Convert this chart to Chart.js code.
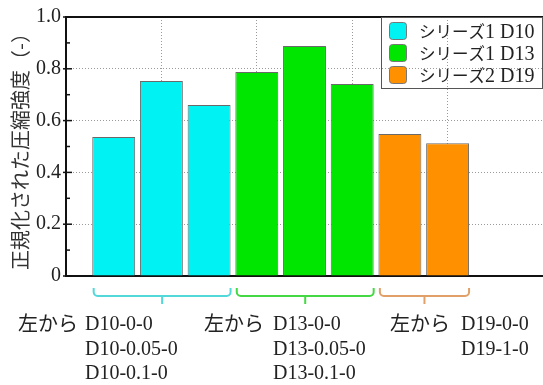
<!DOCTYPE html>
<html>
<head>
<meta charset="utf-8">
<script src="https://cdn.jsdelivr.net/npm/chart.js@4.4.1/dist/chart.umd.min.js"></script>
<style>
  html, body { margin: 0; padding: 0; background: #fff; }
  canvas { display: block; }
</style>
</head>
<body>
<canvas id="chart" width="543" height="385"></canvas>
<script>
// 試験体名（左から順）
const categories = ['D10-0-0', 'D10-0.05-0', 'D10-0.1-0', 'D13-0-0', 'D13-0.05-0', 'D13-0.1-0', 'D19-0-0', 'D19-1-0'];
const seriesLabels = ['シリーズ1 D10', 'シリーズ1 D13', 'シリーズ2 D19'];
const d10Values = [0.537, 0.753, 0.660];
const d13Values = [0.788, 0.888, 0.741];
const d19Values = [0.548, 0.513];
const yTicks = [0, 0.2, 0.4, 0.6, 0.8, 1.0];
const yTitle = '正規化された圧縮強度（-）';
const groupNote = '左から';

const colors = ['#00f2f2', '#00e600', '#ff9100'];
const braceColors = ['#52d8d8', '#45d845', '#e0a068'];

// 各系列のx位置は試験体の並び順
const groups = [d10Values, d13Values, d19Values];
let offset = 0;
const datasets = groups.map((vals, g) => {
    const start = offset;
    offset += vals.length;
    return {
        label: seriesLabels[g],
        data: vals.map((v, i) => ({ x: start + i, y: v })),
        backgroundColor: colors[g],
        borderColor: '#6a6a6a',
        borderWidth: 1,
        grouped: false,
        barPercentage: 0.9,
        categoryPercentage: 1.0,
        _start: start
    };
});

const SERIF = "'Liberation Serif', 'Times New Roman', serif";
const JP = "'Noto Sans CJK JP', sans-serif";

// 日本語と英数字を別フォントで描く
function drawMixed(ctx, str, x, y, jpSize, enSize) {
    const runs = str.match(/[\u3000-\u30ff\u4e00-\u9fff\uff00-\uffef]+|[^\u3000-\u30ff\u4e00-\u9fff\uff00-\uffef]+/g) || [];
    runs.forEach(r => {
        const jp = /[\u3000-\u30ff\u4e00-\u9fff\uff00-\uffef]/.test(r);
        ctx.font = jp ? jpSize + 'px ' + JP : enSize + 'px ' + SERIF;
        ctx.fillText(r, x, y);
        x += ctx.measureText(r).width;
    });
}

const decor = {
    id: 'decor',
    afterDraw(chart) {
        const ctx = chart.ctx;
        const area = chart.chartArea;
        const xs = chart.scales.x, ys = chart.scales.y;
        ctx.save();

        // 上枠
        ctx.strokeStyle = '#111';
        ctx.lineWidth = 2;
        ctx.beginPath();
        ctx.moveTo(area.left - 1, area.top);
        ctx.lineTo(area.right, area.top);
        ctx.stroke();

        // 目盛り（主・副）
        ctx.lineWidth = 1.5;
        yTicks.forEach((v, i) => {
            const py = ys.getPixelForValue(v);
            ctx.beginPath();
            ctx.moveTo(area.left - 3, py);
            ctx.lineTo(area.left + 6, py);
            ctx.stroke();
            if (i < yTicks.length - 1) {
                const pm = ys.getPixelForValue((v + yTicks[i + 1]) / 2);
                ctx.beginPath();
                ctx.moveTo(area.left, pm);
                ctx.lineTo(area.left + 4, pm);
                ctx.stroke();
            }
        });

        // 凡例
        const lx = 381, ly = area.top, lw = area.right - 1 - lx, lh = 71;
        ctx.strokeStyle = '#555';
        ctx.lineWidth = 1;
        ctx.strokeRect(lx + 0.5, ly + 0.5, lw, lh);
        chart.data.datasets.forEach((ds, i) => {
            const cy = ly + 14 + i * 22;
            ctx.fillStyle = ds.backgroundColor;
            ctx.strokeStyle = '#777';
            ctx.beginPath();
            ctx.roundRect(389.5, cy - 8.5, 17, 17, 3);
            ctx.fill();
            ctx.stroke();
            ctx.fillStyle = '#222';
            ctx.textBaseline = 'alphabetic';
            drawMixed(ctx, ds.label, 419, cy + 7, 16.5, 20);
        });

        // 波括弧とグループ名
        const textX = [[18, 85], [204, 273], [390, 461]];
        chart.data.datasets.forEach((ds, g) => {
            const n = ds.data.length;
            const x0 = xs.getPixelForValue(ds._start - 0.42);
            const x1 = xs.getPixelForValue(ds._start + n - 1 + 0.45);
            const xc = (x0 + x1) / 2;
            const by = 296;
            ctx.strokeStyle = braceColors[g];
            ctx.lineWidth = 2;
            ctx.beginPath();
            ctx.moveTo(x0, 288);
            ctx.arcTo(x0, by, x0 + 4, by, 4);
            ctx.arcTo(x1, by, x1, 288, 4);
            ctx.lineTo(x1, 288);
            ctx.stroke();
            ctx.beginPath();
            ctx.moveTo(xc, by);
            ctx.lineTo(xc, 304);
            ctx.stroke();

            ctx.fillStyle = '#222';
            ctx.textBaseline = 'alphabetic';
            ctx.font = '20px ' + JP;
            ctx.fillText(groupNote, textX[g][0], 331);
            ctx.font = '20px ' + SERIF;
            for (let i = 0; i < n; i++) {
                ctx.fillText(categories[ds._start + i], textX[g][1], 330 + i * 24.5);
            }
        });
        ctx.restore();
    }
};

new Chart(document.getElementById('chart'), {
    type: 'bar',
    data: { datasets: datasets },
    options: {
        responsive: false,
        animation: false,
        layout: { padding: { top: 16, bottom: 109, left: 0, right: 0 } },
        plugins: { legend: { display: false }, tooltip: { enabled: false } },
        scales: {
            x: {
                type: 'linear',
                offset: false,
                min: -1,
                max: 9,
                ticks: { display: false, stepSize: 2 },
                grid: { color: '#9a9a9a', lineWidth: 1, drawTicks: false, offset: false },
                border: { color: '#111', width: 2, dash: [1, 2] }
            },
            y: {
                min: 0,
                max: 1,
                afterFit: s => { s.width = 66; },
                ticks: {
                    stepSize: 0.2,
                    padding: 5,
                    color: '#222',
                    font: { family: SERIF, size: 20 },
                    callback: v => v === 0 ? '0' : v.toFixed(1)
                },
                grid: { color: '#9a9a9a', lineWidth: 1, drawTicks: false },
                border: { color: '#111', width: 2, dash: [1, 2] },
                title: {
                    display: true,
                    text: yTitle,
                    color: '#333',
                    font: { family: JP, size: 20 },
                    padding: { top: 8, bottom: 0 }
                }
            }
        }
    },
    plugins: [decor]
});
</script>
</body>
</html>
